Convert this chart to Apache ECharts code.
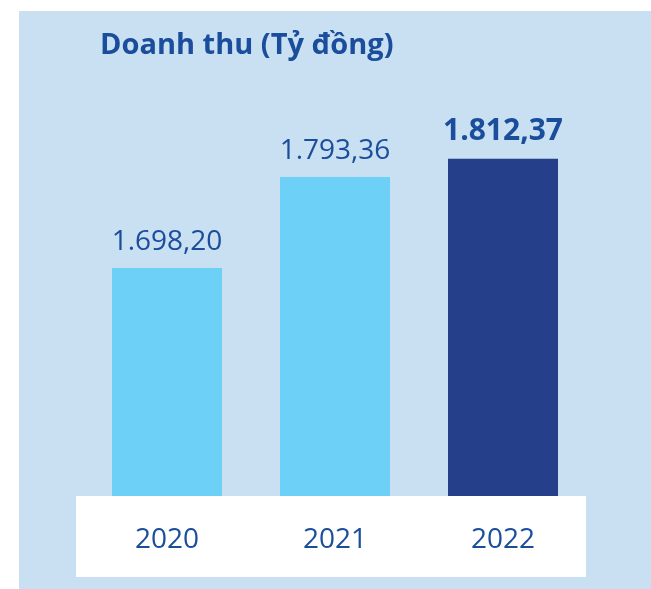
<!DOCTYPE html>
<html>
<head>
<meta charset="utf-8">
<script src="https://cdn.jsdelivr.net/npm/echarts@6/dist/echarts.min.js"></script>
<style>
  html, body { margin: 0; padding: 0; background: #fff; }
  #chart { width: 651px; height: 589px; }
</style>
</head>
<body>
<div id="chart"></div>
<script>
var years = ['2020', '2021', '2022'];
var revenue = [1698.20, 1793.36, 1812.37];

var lightBar = '#6dd0f6';
var darkBar = '#263f8a';
var textBlue = '#1a4d9b';

// 1698.2 -> "1.698,20"
function viNumber(v) {
  var parts = v.toFixed(2).split('.');
  var intPart = parts[0].replace(/\B(?=(\d{3})+(?!\d))/g, '.');
  return intPart + ',' + parts[1];
}

var last = revenue.length - 1;
var barData = revenue.map(function(v, i) {
  return {
    value: v,
    itemStyle: { color: i === last ? darkBar : lightBar },
    label: {
      fontWeight: i === last ? 'bold' : 'normal',
      fontSize: i === last ? 30 : 28
    }
  };
});

var myChart = echarts.init(document.getElementById('chart'));
myChart.setOption({
  animation: false,
  backgroundColor: '#ffffff',
  graphic: [
    { type: 'rect', z: -10, shape: { x: 19, y: 11, width: 632, height: 578 }, style: { fill: '#c9dff2' } },
    { type: 'rect', z: -9, shape: { x: 76, y: 496, width: 510, height: 81 }, style: { fill: '#ffffff' } }
  ],
  title: {
    text: 'Doanh thu (Tỷ đồng)',
    left: 95,
    top: 26,
    textStyle: {
      fontFamily: 'Open Sans',
      fontWeight: 'bold',
      fontSize: 29,
      color: textBlue
    }
  },
  grid: { left: 83, right: 64, top: 75, bottom: 93 },
  xAxis: {
    type: 'category',
    data: years,
    axisLine: { show: false },
    axisTick: { show: false },
    axisLabel: {
      margin: 30,
      fontFamily: 'Open Sans',
      fontSize: 28,
      color: textBlue
    }
  },
  yAxis: {
    type: 'value',
    min: 1460,
    max: 1900,
    show: false,
    splitLine: { show: false }
  },
  series: [{
    type: 'bar',
    data: barData,
    barWidth: 110,
    label: {
      show: true,
      position: 'top',
      distance: 12,
      fontFamily: 'Open Sans',
      color: textBlue,
      formatter: function(p) { return viNumber(p.value); }
    }
  }]
});
</script>
</body>
</html>
